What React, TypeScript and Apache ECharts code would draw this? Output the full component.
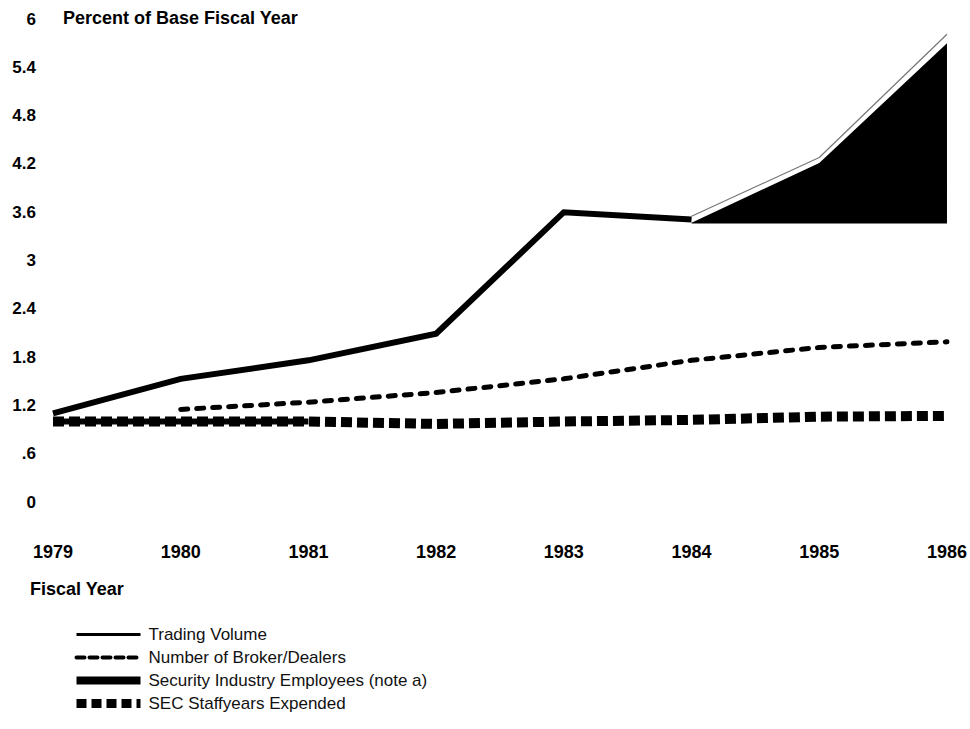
import React, { useEffect, useRef } from 'react';
import * as echarts from 'echarts';

const years = ['1979', '1980', '1981', '1982', '1983', '1984', '1985', '1986'];
const tradingVolume = [1.1, 1.53, 1.76, 2.09, 3.6, 3.51, null, null];
const tradingVolumeOutline = [null, null, null, null, null, 3.55, 4.28, 5.81];
const brokerDealers = [null, 1.15, 1.24, 1.36, 1.53, 1.76, 1.92, 1.99];
const industryEmployees = [1.0, 1.0, 1.0, null, null, null, null, null];
const industryEmployeesArea = [null, null, null, null, null, 3.47, 4.21, 5.7];
const industryAreaBase = 3.46;
const secStaffyears = [1.0, 1.0, 1.0, 0.97, 1.0, 1.02, 1.06, 1.07];

const seriesNames = [
  'Trading Volume',
  'Number of Broker/Dealers',
  'Security Industry Employees (note a)',
  'SEC Staffyears Expended',
];

const FONT = '"Liberation Sans", Arial, Helvetica, sans-serif';

export default function App() {
  const ref = useRef<HTMLDivElement>(null);

  useEffect(() => {
    if (!ref.current) return;
    const chart = echarts.init(ref.current, undefined, { renderer: 'svg' });
    const hiddenSymbol = { color: 'rgba(0,0,0,0)', borderWidth: 0, opacity: 0 };
    chart.setOption({
      animation: false,
      backgroundColor: '#ffffff',
      textStyle: { fontFamily: FONT, color: '#000' },
      title: [
        {
          text: 'Percent of Base Fiscal Year',
          left: 63,
          top: 9,
          padding: 0,
          textStyle: { fontSize: 18, fontWeight: 'bold', color: '#000', fontFamily: FONT },
        },
        {
          text: 'Fiscal Year',
          left: 30,
          top: 580,
          padding: 0,
          textStyle: { fontSize: 18, fontWeight: 'bold', color: '#000', fontFamily: FONT },
        },
      ],
      grid: { left: 53, right: 23, top: 19, bottom: 227, containLabel: false },
      xAxis: {
        type: 'category',
        data: years,
        boundaryGap: false,
        axisLine: { show: false },
        axisTick: { show: false },
        splitLine: { show: false },
        axisLabel: {
          margin: 41,
          fontSize: 18,
          fontWeight: 'bold',
          color: '#000',
          fontFamily: FONT,
        },
      },
      yAxis: {
        type: 'value',
        min: 0,
        max: 6,
        interval: 0.6,
        axisLine: { show: false },
        axisTick: { show: false },
        splitLine: { show: false },
        axisLabel: {
          margin: 17,
          fontSize: 17,
          fontWeight: 'bold',
          color: '#000',
          fontFamily: FONT,
          formatter: (v: number) => {
            const s = String(Number(v.toFixed(1)));
            return s.startsWith('0.') ? s.slice(1) : s;
          },
        },
      },
      legend: {
        orient: 'vertical',
        left: 72,
        top: 626,
        padding: 0,
        itemWidth: 64,
        itemHeight: 14,
        itemGap: 6,
        selectedMode: false,
        textStyle: { fontSize: 17, color: '#111', fontFamily: FONT, padding: [0, 0, 0, 3] },
        data: [
          { name: seriesNames[0], itemStyle: hiddenSymbol, lineStyle: { width: 3, type: 'solid', color: '#000' } },
          { name: seriesNames[1], itemStyle: hiddenSymbol, lineStyle: { width: 4, type: [8, 5], color: '#000' } },
          { name: seriesNames[2], itemStyle: hiddenSymbol, lineStyle: { width: 8, type: 'solid', color: '#000' } },
          { name: seriesNames[3], itemStyle: hiddenSymbol, lineStyle: { width: 9, type: [10, 5], color: '#000' } },
        ],
      },
      series: [
        {
          name: 'Security Industry Employees area',
          type: 'line',
          data: industryEmployeesArea,
          symbol: 'none',
          silent: true,
          lineStyle: { width: 0, color: '#000' },
          areaStyle: { color: '#000', opacity: 1, origin: industryAreaBase },
          z: 1,
        },
        {
          name: 'Trading Volume outline',
          type: 'line',
          data: tradingVolumeOutline,
          symbol: 'none',
          silent: true,
          lineStyle: { width: 1.2, color: '#777' },
          z: 2,
        },
        {
          name: seriesNames[3],
          type: 'line',
          data: secStaffyears,
          symbol: 'none',
          itemStyle: { color: '#000' },
          lineStyle: { width: 10, type: [11, 5], color: '#000', cap: 'butt' },
          z: 3,
        },
        {
          name: seriesNames[2],
          type: 'line',
          data: industryEmployees,
          symbol: 'none',
          itemStyle: { color: '#000' },
          lineStyle: { width: 6, color: '#000' },
          z: 3,
        },
        {
          name: seriesNames[1],
          type: 'line',
          data: brokerDealers,
          symbol: 'none',
          itemStyle: { color: '#000' },
          lineStyle: { width: 5, type: [7, 9], color: '#000', cap: 'round' },
          z: 4,
        },
        {
          name: seriesNames[0],
          type: 'line',
          data: tradingVolume,
          symbol: 'none',
          itemStyle: { color: '#000' },
          lineStyle: { width: 6, color: '#000', join: 'miter' },
          z: 5,
        },
      ],
    });
    return () => chart.dispose();
  }, []);

  return (
    <div
      ref={ref}
      style={{ position: 'fixed', left: 0, top: 0, width: 970, height: 729, background: '#fff' }}
    />
  );
}
